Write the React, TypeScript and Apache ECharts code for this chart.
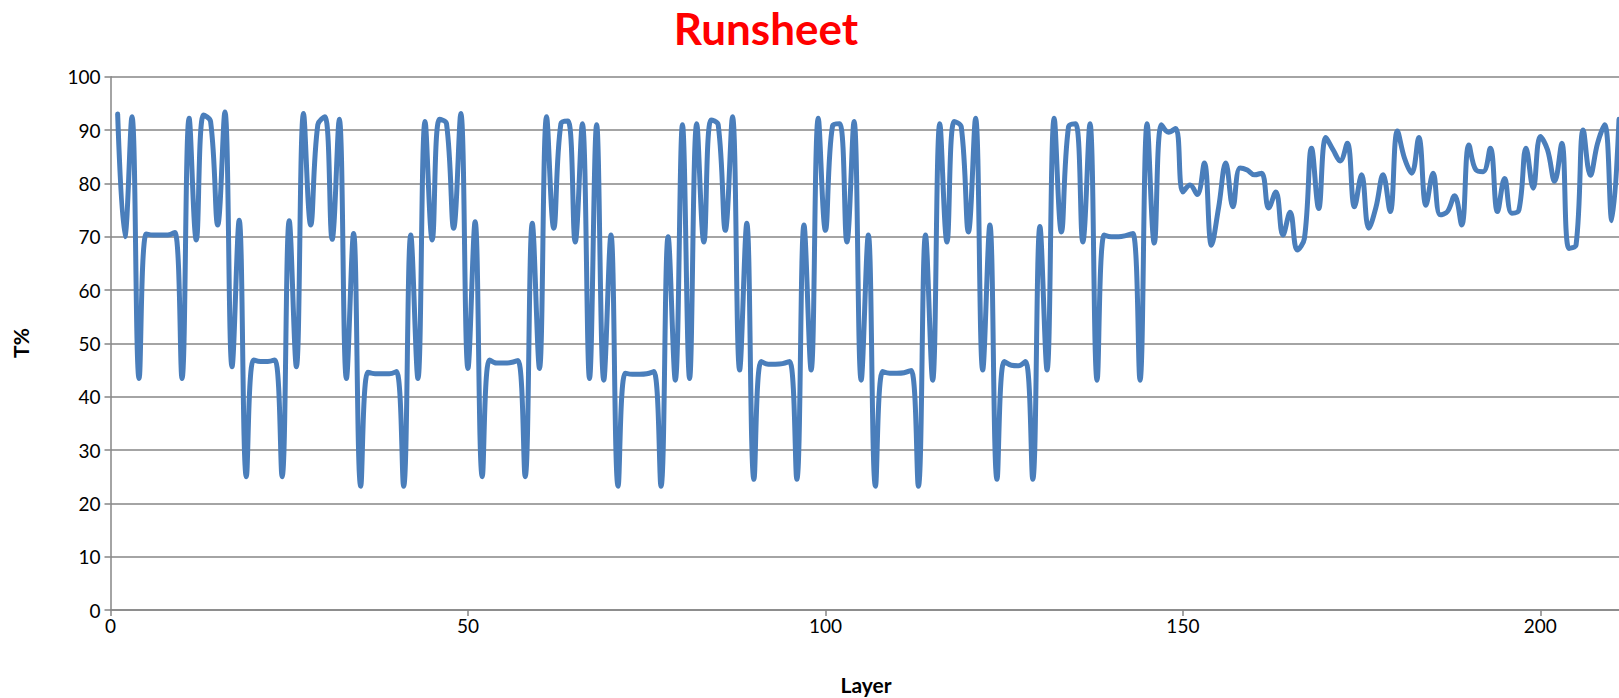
import React, { useEffect, useRef } from "react";
import * as echarts from "echarts";

const chartTitle = "Runsheet";
const xAxisTitle = "Layer";
const yAxisTitle = "T%";

// T% per layer, layers 1..211
const tValues: number[] = [
  93, 70, 92.5, 43.4, 70.5, 70.3, 70.3, 70.3, 70.8, 43.4,
  92.2, 69.4, 92.8, 91.6, 72.2, 93.4, 45.6, 73.1, 25, 46.9,
  46.6, 46.6, 46.9, 25, 73, 45.6, 93.1, 72.2, 91, 92.5,
  69.5, 92, 43.4, 70.6, 23.2, 44.6, 44.3, 44.3, 44.3, 44.7,
  23.2, 70.3, 43.4, 91.6, 69.4, 92, 91.2, 71.6, 93.1, 45.3,
  72.8, 25, 46.9, 46.3, 46.3, 46.4, 46.8, 25, 72.5, 45.3,
  92.5, 71.6, 91.2, 91.7, 69, 91.2, 43.4, 91, 43.1, 70.3,
  23.2, 44.4, 44.2, 44.2, 44.3, 44.7, 23.2, 70, 43.1, 91,
  43.4, 91.2, 69, 91.9, 91, 71.2, 92.5, 45, 72.5, 24.5,
  46.6, 46.1, 46.1, 46.2, 46.6, 24.5, 72.2, 45, 92.2, 71.2,
  90.8, 91.2, 69, 91.6, 43.1, 70.3, 23.2, 44.7, 44.4, 44.4,
  44.5, 44.9, 23.2, 70.3, 43.1, 91.2, 69, 91.6, 90.6, 70.9,
  92.2, 45, 72.2, 24.5, 46.6, 45.9, 45.8, 46.6, 24.5, 71.9,
  45, 92.2, 70.9, 90.6, 91.2, 69, 91.2, 43.1, 70.3, 70,
  70, 70.2, 70.6, 43.1, 91.2, 68.8, 91, 89.6, 90.3, 78.4,
  79.7, 77.9, 83.8, 68.4, 75.5, 83.8, 75.6, 82.9, 82.5, 81.6,
  81.9, 75.4, 78.4, 70.3, 74.6, 67.5, 69.7, 86.6, 75.3, 88.6,
  86.3, 84.2, 87.5, 75.6, 81.6, 71.6, 75.5, 81.6, 74.7, 89.8,
  84.7, 81.9, 88.6, 75.9, 81.9, 74.1, 74.7, 77.7, 72.2, 87.2,
  82.5, 82.2, 86.6, 74.7, 80.9, 74.4, 75, 86.6, 79.1, 88.8,
  86.3, 80.4, 87.5, 67.8, 68.5, 90, 81.5, 87.5, 91, 73,
  92,
];

const xTickLabels = [0, 50, 100, 150, 200];
const yTickLabels = [0, 10, 20, 30, 40, 50, 60, 70, 80, 90, 100];

const FONT = "Lato, 'Open Sans', sans-serif";
const GRID_COLOR = "#868686";

export default function App() {
  const ref = useRef<HTMLDivElement>(null);

  useEffect(() => {
    if (!ref.current) return;
    const chart = echarts.init(ref.current, null, { renderer: "svg" });
    const xMax = tValues.length;
    chart.setOption({
      animation: false,
      backgroundColor: "#ffffff",
      grid: { left: 110.5, right: 0, top: 76.7, bottom: 88, containLabel: false },
      xAxis: {
        type: "value",
        min: 0,
        max: xMax,
        interval: 50,
        axisLine: { show: true, onZero: false, lineStyle: { color: GRID_COLOR, width: 1.5 } },
        axisTick: { show: true, inside: false, length: 6, lineStyle: { color: GRID_COLOR, width: 1.5 } },
        axisLabel: {
          show: true,
          margin: 6,
          color: "#000",
          fontFamily: FONT,
          fontSize: 19,
          showMaxLabel: false,
          formatter: (v: number) => (xTickLabels.indexOf(v) >= 0 ? String(v) : ""),
        },
        splitLine: { show: false },
      },
      yAxis: {
        type: "value",
        min: 0,
        max: 100,
        interval: 10,
        axisLine: { show: true, lineStyle: { color: GRID_COLOR, width: 1.5 } },
        axisTick: { show: true, inside: false, length: 6, lineStyle: { color: GRID_COLOR, width: 1.5 } },
        axisLabel: {
          show: true,
          margin: 10,
          color: "#000",
          fontFamily: FONT,
          fontSize: 19,
          formatter: (v: number) => (yTickLabels.indexOf(v) >= 0 ? String(v) : ""),
        },
        splitLine: { show: true, lineStyle: { color: GRID_COLOR, width: 1.5 } },
      },
      graphic: [
        {
          type: "text",
          x: 766,
          y: 28,
          style: {
            text: chartTitle,
            fill: "#ff0000",
            font: `bold 44px ${FONT}`,
            textAlign: "center",
            textVerticalAlign: "middle",
          },
        },
        {
          type: "text",
          x: 866,
          y: 684,
          style: {
            text: xAxisTitle,
            fill: "#000",
            font: `bold 21px ${FONT}`,
            textAlign: "center",
            textVerticalAlign: "middle",
          },
        },
        {
          type: "text",
          x: 20,
          y: 343,
          rotation: Math.PI / 2,
          style: {
            text: yAxisTitle,
            fill: "#000",
            font: `bold 21px ${FONT}`,
            textAlign: "center",
            textVerticalAlign: "middle",
          },
        },
      ],
      series: [
        {
          type: "line",
          data: tValues.map((v, i) => [i + 1, v]),
          smooth: 0.4,
          symbol: "none",
          lineStyle: { color: "#4A7EBB", width: 5, join: "round", cap: "round" },
          clip: true,
        },
      ],
    });
    return () => chart.dispose();
  }, []);

  return (
    <div
      ref={ref}
      style={{ position: "fixed", left: 0, top: 0, width: 1619, height: 698, background: "#fff" }}
    />
  );
}
